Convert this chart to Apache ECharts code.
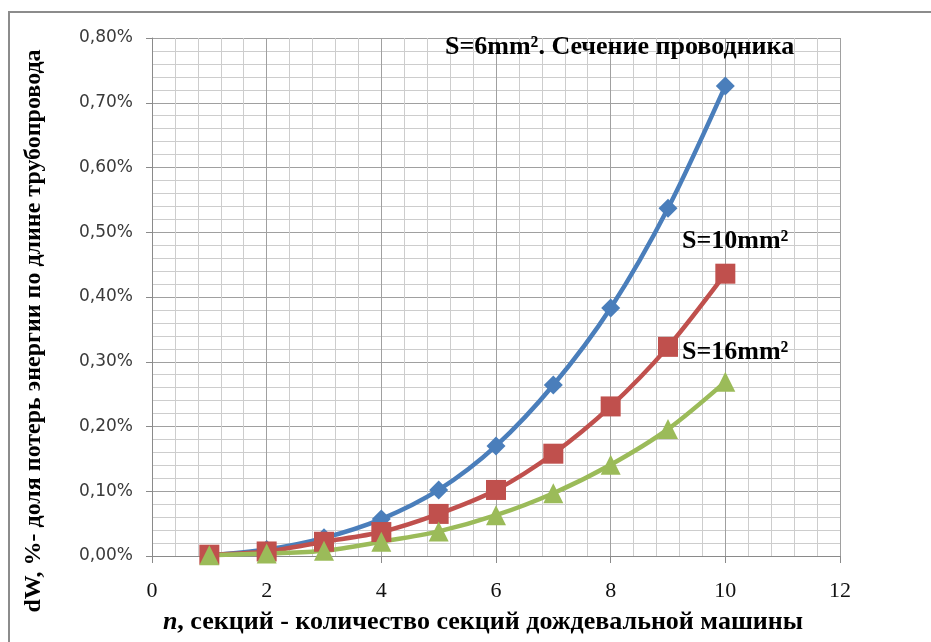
<!DOCTYPE html>
<html>
<head>
<meta charset="utf-8">
<script src="https://cdn.jsdelivr.net/npm/echarts@6/dist/echarts.min.js"></script>
<style>
  html, body { margin: 0; padding: 0; background: #ffffff; }
  #chart { width: 931px; height: 642px; }
</style>
</head>
<body>
<div id="chart"></div>
<script>
// Number of machine sections
const sections = [1, 2, 3, 4, 5, 6, 7, 8, 9, 10];
// Energy loss share along the pipeline, %
const lossS6 = [0.001, 0.010, 0.028, 0.057, 0.102, 0.170, 0.264, 0.383, 0.537, 0.726];
const lossS10 = [0.002, 0.007, 0.022, 0.037, 0.065, 0.102, 0.158, 0.231, 0.323, 0.436];
const lossS16 = [0.001, 0.004, 0.008, 0.022, 0.038, 0.063, 0.097, 0.141, 0.196, 0.269];
const seriesNames = ['S=6mm²', 'S=10mm²', 'S=16mm²'];
const curveLabels = ['S=6mm². Сечение проводника', 'S=10mm²', 'S=16mm²'];
const xTitle = 'секций - количество секций дождевальной машины';
const yTitle = 'dW, %- доля потерь энергии по длине трубопровода';

const pairs = arr => sections.map((n, i) => [n, arr[i]]);

const chart = echarts.init(document.getElementById('chart'), null, { renderer: 'canvas' });

const serif = '"Liberation Serif", "Times New Roman", serif';

function makeSeries(name, data, color, symbol, size) {
  return {
    name: name,
    type: 'line',
    data: pairs(data),
    smooth: 0.3,
    symbol: symbol,
    symbolSize: size,
    lineStyle: { color: color, width: 4.5 },
    itemStyle: { color: color },
    z: 3
  };
}

function label(text, left, top) {
  return {
    type: 'text', left: left, top: top, silent: true, z: 100,
    style: { text: text, font: 'bold 26px ' + serif, fill: '#000', stroke: 'none', lineWidth: 0 }
  };
}

chart.setOption({
  animation: false,
  backgroundColor: '#ffffff',
  grid: { left: 152, right: 91, top: 38, bottom: 86, containLabel: false },
  xAxis: {
    type: 'value',
    min: 0, max: 12, interval: 2,
    axisLine: { show: true, lineStyle: { color: '#8a8a8a', width: 1 } },
    axisTick: { show: true, length: 7, lineStyle: { color: '#8a8a8a' } },
    axisLabel: { margin: 24, fontFamily: serif, fontSize: 22, color: '#111' },
    splitLine: { show: true, lineStyle: { color: '#a0a0a0', width: 1 } },
    minorTick: { show: true, splitNumber: 5, length: 0 },
    minorSplitLine: { show: true, lineStyle: { color: '#cdcdcd', width: 1 } }
  },
  yAxis: {
    type: 'value',
    min: 0, max: 0.8, interval: 0.1,
    axisLine: { show: true, lineStyle: { color: '#8a8a8a', width: 1 } },
    axisTick: { show: true, length: 6, lineStyle: { color: '#8a8a8a' } },
    axisLabel: {
      margin: 19,
      fontFamily: '"DejaVu Sans", Verdana, sans-serif',
      fontSize: 17,
      color: '#3a3a3a',
      formatter: v => v.toFixed(2).replace('.', ',') + '%'
    },
    splitLine: { show: true, lineStyle: { color: '#a0a0a0', width: 1 } },
    minorTick: { show: true, splitNumber: 5, length: 0 },
    minorSplitLine: { show: true, lineStyle: { color: '#cdcdcd', width: 1 } }
  },
  series: [
    makeSeries(seriesNames[0], lossS6, '#4a7ebb', 'diamond', 19),
    makeSeries(seriesNames[1], lossS10, '#c0504d', 'rect', 20),
    makeSeries(seriesNames[2], lossS16, '#9bbb59', 'triangle', 20)
  ],
  graphic: [
    {
      type: 'rect', silent: true,
      shape: { x: 9, y: 12, width: 1000, height: 1000 },
      style: { fill: 'none', stroke: '#8c8c8c', lineWidth: 2 }
    },
    label(curveLabels[0], 445, 34),
    label(curveLabels[1], 682, 228),
    label(curveLabels[2], 682, 339),
    {
      type: 'text', x: 483, y: 622, silent: true, z: 100,
      style: {
        text: '{i|n}, ' + xTitle,
        align: 'center', verticalAlign: 'middle',
        font: 'bold 26px ' + serif, fill: '#000', stroke: 'none', lineWidth: 0,
        rich: { i: { font: 'italic bold 26px ' + serif, fill: '#000' } }
      }
    },
    {
      type: 'text', x: 34, y: 331, rotation: Math.PI / 2, silent: true, z: 100,
      style: {
        text: yTitle,
        align: 'center', verticalAlign: 'middle',
        font: 'bold 24px ' + serif, fill: '#000', stroke: 'none', lineWidth: 0
      }
    }
  ]
});
</script>
</body>
</html>
